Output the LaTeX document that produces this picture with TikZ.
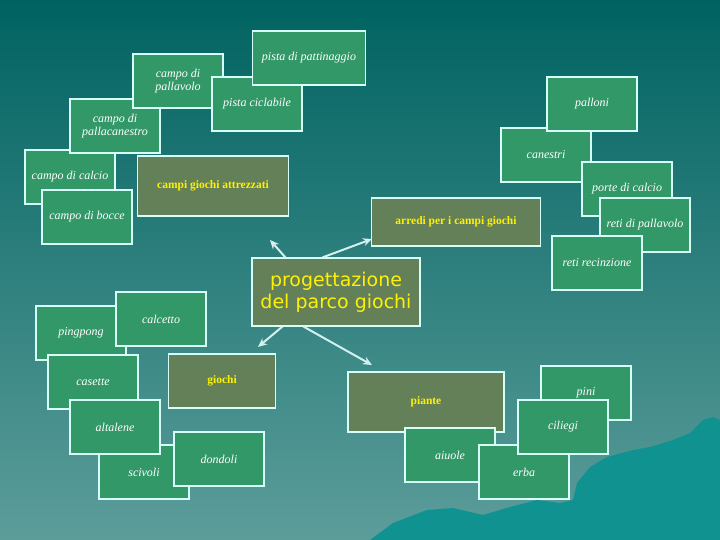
\documentclass[tikz,border=0pt]{standalone}
\usepackage{fontspec}
\setmainfont{Liberation Serif}
\newfontfamily\titlefont{DejaVu Sans}
\usetikzlibrary{arrows.meta}
\definecolor{bgtop}{RGB}{0,99,97}
\definecolor{bgbottom}{RGB}{92,157,154}
\definecolor{mount}{RGB}{16,146,145}
\definecolor{boxgreen}{RGB}{51,152,104}
\definecolor{boxolive}{RGB}{99,128,88}
\definecolor{edgecol}{RGB}{215,255,250}
\definecolor{linkcol}{RGB}{210,240,240}
\begin{document}
\begin{tikzpicture}[x=1pt,y=-1pt,
  item node/.style={shape=rectangle,draw=edgecol,line width=1.1pt,fill=boxgreen,minimum width=90pt,minimum height=54pt,inner sep=0pt,text=white,font=\fontsize{12}{13}\selectfont\itshape,align=center},
  topic node/.style={shape=rectangle,draw=edgecol,line width=1.1pt,fill=boxolive,inner sep=0pt,text=yellow,font=\fontsize{11.5}{13}\selectfont\bfseries,align=center},
  root node/.style={topic node,font=\titlefont\fontsize{19}{22}\selectfont},
  link/.style={draw=linkcol,line width=2pt,-{Stealth[length=9pt,width=8pt]}}]
\shade[top color=bgtop,bottom color=bgbottom] (0,0) rectangle (720,540);
\fill[mount] (370,540) -- (393,523) -- (427,510) -- (453,508) -- (483,515) -- (510,507) -- (537,500) -- (560,503) -- (573,500) -- (577,483) -- (590,467) -- (607,457) -- (633,450) -- (650,447) -- (673,440) -- (690,433) -- (703,420) -- (713,417) -- (720,420) -- (720,540) -- cycle;
\node[item node] (calcio) at (70,177) {campo di calcio};
\node[item node] (bocce) at (87,217) {campo di bocce};
\node[item node] (canestro) at (115,126) {campo di\\pallacanestro};
\node[item node] (volley) at (178,81) {campo di\\pallavolo};
\node[item node] (ciclo) at (257,104) {pista ciclabile};
\node[item node, minimum width=113pt] (pattini) at (309,58) {pista di pattinaggio};
\node[topic node, minimum width=151pt, minimum height=60pt] (campi) at (213,186) {campi giochi attrezzati};
\node[item node] (canestri) at (546,155) {canestri};
\node[item node] (palloni) at (592,104) {palloni};
\node[item node] (porte) at (627,189) {porte di calcio};
\node[item node] (retivolley) at (645,225) {reti di pallavolo};
\node[item node] (recinto) at (597,263) {reti recinzione};
\node[topic node, minimum width=169pt, minimum height=48pt] (arredi) at (456,222) {arredi per i campi giochi};
\node[root node, minimum width=168pt, minimum height=68pt] (P) at (336,292) {progettazione\\del parco giochi};
\node[item node] (pingpong) at (81,333) {pingpong};
\node[item node] (calcetto) at (161,319) {calcetto};
\node[item node] (casette) at (93,382) {casette};
\node[item node] (scivoli) at (144,472) {scivoli};
\node[item node] (altalene) at (115,427) {altalene};
\node[item node] (dondoli) at (219,459) {dondoli};
\node[topic node, minimum width=107pt, minimum height=54pt] (giochi) at (222,381) {giochi};
\node[topic node, minimum width=156pt, minimum height=60pt] (piante) at (426,402) {piante};
\node[item node] (aiuole) at (450,455) {aiuole};
\node[item node] (pini) at (586,393) {pini};
\node[item node] (erba) at (524,472) {erba};
\node[item node] (ciliegi) at (563,427) {ciliegi};
\coordinate (t1) at (270,240);
\coordinate (t2) at (372,239);
\coordinate (t3) at (258,347);
\coordinate (t4) at (372,365);
\draw[link] ([xshift=34pt]P.north west) -- (t1);
\draw[link] ([xshift=71pt]P.north west) -- (t2);
\draw[link] ([xshift=31pt]P.south west) -- (t3);
\draw[link] ([xshift=52pt]P.south west) -- (t4);
\end{tikzpicture}
\end{document}
